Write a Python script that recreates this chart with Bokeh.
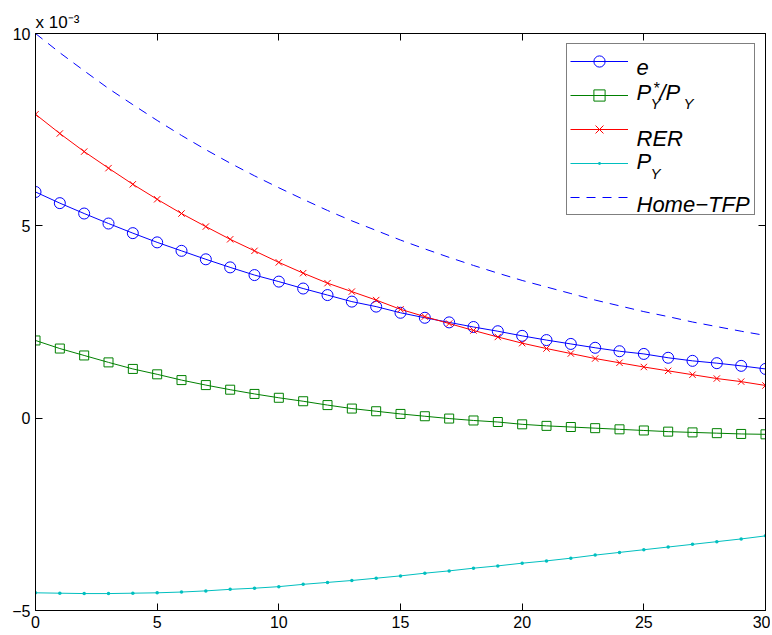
from bokeh.plotting import figure
from bokeh.models import Legend, LegendItem, Label, LinearAxis, FixedTicker, Range1d
from bokeh.embed import file_html
from bokeh.resources import INLINE

# values are in units of 1e-3 (axis multiplier shown as "x 10^-3")
t = list(range(31))
e = [5.88, 5.59, 5.32, 5.06, 4.81, 4.57, 4.35, 4.13, 3.92, 3.72, 3.55,
     3.37, 3.20, 3.03, 2.90, 2.74, 2.61, 2.49, 2.37, 2.26, 2.14,
     2.03, 1.93, 1.83, 1.74, 1.67, 1.57, 1.49, 1.43, 1.36, 1.28]
pstar_over_py = [2.02, 1.81, 1.63, 1.45, 1.28, 1.14, 0.99, 0.86, 0.74, 0.63, 0.53,
                 0.44, 0.34, 0.25, 0.18, 0.11, 0.05, -0.01, -0.06, -0.10, -0.16,
                 -0.20, -0.23, -0.26, -0.29, -0.32, -0.35, -0.37, -0.39, -0.41, -0.42]
rer = [7.90, 7.40, 6.93, 6.50, 6.08, 5.69, 5.32, 4.98, 4.65, 4.35, 4.05,
       3.77, 3.51, 3.29, 3.07, 2.83, 2.64, 2.46, 2.28, 2.11, 1.95,
       1.81, 1.68, 1.55, 1.44, 1.33, 1.23, 1.13, 1.03, 0.95, 0.85]
p_y = [-4.54, -4.55, -4.56, -4.56, -4.55, -4.54, -4.52, -4.49, -4.45, -4.42, -4.38,
       -4.32, -4.27, -4.22, -4.16, -4.10, -4.03, -3.97, -3.90, -3.84, -3.77,
       -3.71, -3.64, -3.56, -3.49, -3.42, -3.35, -3.28, -3.21, -3.14, -3.06]
home_tfp = [10.00, 9.50, 9.03, 8.57, 8.15, 7.74, 7.35, 6.98, 6.63, 6.30, 5.99,
            5.69, 5.40, 5.13, 4.88, 4.63, 4.40, 4.18, 3.97, 3.77, 3.58,
            3.41, 3.24, 3.07, 2.92, 2.77, 2.64, 2.50, 2.38, 2.26, 2.15]
x_ticks = [0, 5, 10, 15, 20, 25, 30]
y_ticks = [-5, 0, 5, 10]
y_tick_labels = {-5: "\u22125", 0: "0", 5: "5", 10: "10"}
multiplier_text = "x 10\u207b\u00b3"

BLUE = "#0000ff"
GREEN = "#008000"
RED = "#ff0000"
CYAN = "#00bfbf"
FONT = "Liberation Sans"

p = figure(frame_width=730, frame_height=577,
           x_range=Range1d(0, 30), y_range=Range1d(-5, 10),
           output_backend="svg", toolbar_location=None,
           min_border_left=35, min_border_top=33, min_border_right=5, min_border_bottom=24,
           background_fill_color="white", border_fill_color="white")
p.grid.visible = False
p.outline_line_color = "black"
p.outline_line_width = 1

# axis multiplier shown above the top-left corner
p.title.text = multiplier_text
p.title.align = "left"
p.title.offset = 0
p.title.standoff = 3
p.title.text_font = FONT
p.title.text_font_size = "17px"
p.title.text_font_style = "normal"
p.title.text_color = "black"

def style_axis(ax):
    ax.axis_line_color = "black"
    ax.axis_line_width = 1
    ax.major_tick_in = 7
    ax.major_tick_out = 0
    ax.major_tick_line_color = "black"
    ax.minor_tick_line_color = None
    ax.major_label_text_font = FONT
    ax.major_label_text_font_size = "16px"
    ax.major_label_text_color = "black"
    ax.major_label_standoff = 5

p.xaxis.ticker = FixedTicker(ticks=x_ticks)
p.yaxis.ticker = FixedTicker(ticks=y_ticks)
p.yaxis.major_label_overrides = y_tick_labels
for ax in p.xaxis + p.yaxis:
    style_axis(ax)

top = LinearAxis(ticker=FixedTicker(ticks=x_ticks),
                 major_label_overrides={k: "" for k in x_ticks})
style_axis(top)
top.major_label_standoff = 0
top.major_label_text_font_size = "1px"
p.add_layout(top, "above")
right = LinearAxis(ticker=FixedTicker(ticks=y_ticks),
                   major_label_overrides={k: "" for k in y_ticks})
style_axis(right)
right.major_label_standoff = 0
p.add_layout(right, "right")

# each series drawn as one continuous polyline (multi_line) plus its markers
l1 = p.multi_line([t], [e], line_color=BLUE, line_width=1)
s1 = p.scatter(t, e, marker="circle", size=11, line_color=BLUE, fill_color=None, line_width=1)
l2 = p.multi_line([t], [pstar_over_py], line_color=GREEN, line_width=1)
s2 = p.scatter(t, pstar_over_py, marker="square", size=9, line_color=GREEN, fill_color=None, line_width=1)
l3 = p.multi_line([t], [rer], line_color=RED, line_width=1)
s3 = p.scatter(t, rer, marker="x", size=9, line_color=RED, line_width=1)
l4 = p.multi_line([t], [p_y], line_color=CYAN, line_width=1)
s4 = p.scatter(t, p_y, marker="dot", size=14, line_color=CYAN, fill_color=CYAN)
l5 = p.multi_line([t], [home_tfp], line_color=BLUE, line_width=1, line_dash="9 7")

# legend texts positioned in pixels from the frame's bottom-left corner (added before the legend)
def lab(text, sx, sy, size, italic=True):
    p.add_layout(Label(x=sx, y=sy, x_units="screen", y_units="screen", text=text,
                       text_font=FONT, text_font_size=size,
                       text_font_style="italic" if italic else "normal",
                       text_color="black", text_align="left", text_baseline="alphabetic"))

LS = "22px"
SS = "15px"
lab("e", 601, 543, LS)
lab("P", 601, 518.3, LS)
lab("*", 617.5, 521.8, "16px")
lab("Y", 615, 507.3, SS)
lab("/P", 624, 518.3, LS)
lab("Y", 648, 507.3, SS)
lab("RER", 601, 471.7, LS)
lab("P", 601, 449.3, LS)
lab("Y", 615, 437.3, SS)
lab("Home\u2212TFP", 601, 406, LS)

legend = Legend(items=[
    LegendItem(label=" ", renderers=[l1, s1]),
    LegendItem(label=" ", renderers=[l2, s2]),
    LegendItem(label=" ", renderers=[l3, s3]),
    LegendItem(label=" ", renderers=[l4, s4]),
    LegendItem(label=" ", renderers=[l5]),
], location="top_right", margin=10, padding=3, spacing=6,
   glyph_height=28, glyph_width=58, label_height=28, label_width=118,
   label_standoff=5, label_text_font_size="10px",
   border_line_color="black", border_line_width=1,
   background_fill_color="white", background_fill_alpha=0.0)
p.add_layout(legend)

open("out.html", "w").write(file_html(p, INLINE))
